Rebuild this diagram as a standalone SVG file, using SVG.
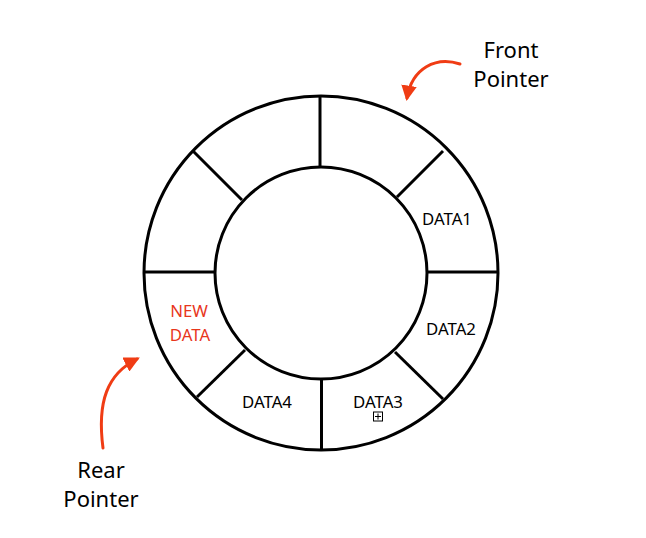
<svg xmlns="http://www.w3.org/2000/svg" width="646" height="538" viewBox="0 0 646 538">
<style>
.ring{fill:none;stroke:#000;stroke-width:3}
.div{stroke:#000;stroke-width:3}
.lbl{font-family:"Noto Sans","Open Sans",sans-serif;font-size:16.8px;fill:#000;text-anchor:middle}
.red{fill:#e8361c}
.ptr{font-family:"Noto Sans","Open Sans",sans-serif;font-size:22px;fill:#000;text-anchor:middle}
.arr{fill:none;stroke:#f03c14;stroke-width:3;stroke-linecap:round}
</style>
<defs>
<marker id="ah" viewBox="0 0 10 10" refX="8" refY="5" markerWidth="5.2" markerHeight="5.2" orient="auto" markerUnits="strokeWidth">
<path d="M0,0 L10,5 L0,10 Z" fill="#f03c14"/>
</marker>
</defs>
<rect width="646" height="538" fill="#fff"/>
<g id="buffer">
<circle class="ring" cx="321" cy="273" r="177"/>
<circle class="ring" cx="321" cy="273" r="106"/>
<line class="div" x1="320" y1="96" x2="320" y2="167"/>
<line class="div" x1="321.5" y1="379" x2="321.5" y2="450"/>
<line class="div" x1="144" y1="272" x2="215" y2="272"/>
<line class="div" x1="427" y1="272" x2="498" y2="272"/>
<line class="div" x1="193" y1="151" x2="242" y2="200"/>
<line class="div" x1="443" y1="151" x2="397" y2="197"/>
<line class="div" x1="443" y1="399" x2="395" y2="352"/>
<line class="div" x1="197" y1="397" x2="245" y2="350"/>
</g>
<g id="cell-data1"><text class="lbl" x="447" y="225">DATA1</text></g>
<g id="cell-data2"><text class="lbl" x="451" y="335">DATA2</text></g>
<g id="cell-data3"><text class="lbl" x="378" y="408">DATA3</text>
<rect x="373.5" y="412" width="9" height="9" fill="#fff" stroke="#000" stroke-width="1"/>
<line x1="378" y1="413.5" x2="378" y2="419.5" stroke="#000" stroke-width="1"/>
<line x1="375" y1="416.5" x2="381" y2="416.5" stroke="#000" stroke-width="1"/>
</g>
<g id="cell-data4"><text class="lbl" x="267" y="407.5">DATA4</text></g>
<g id="cell-new"><text class="lbl red" x="189" y="317">NEW</text><text class="lbl red" x="190" y="341">DATA</text></g>
<g id="front-label"><text class="ptr" x="511" y="58">Front</text><text class="ptr" x="511" y="87">Pointer</text></g>
<g id="rear-label"><text class="ptr" x="101" y="478">Rear</text><text class="ptr" x="101" y="507">Pointer</text></g>
<g id="connectors">
<path class="arr" d="M460,64 C436,56 412,68 407,98" marker-end="url(#ah)"/>
<path class="arr" d="M103,448 C97,402 107,374 137,359" marker-end="url(#ah)"/>
</g>
</svg>
